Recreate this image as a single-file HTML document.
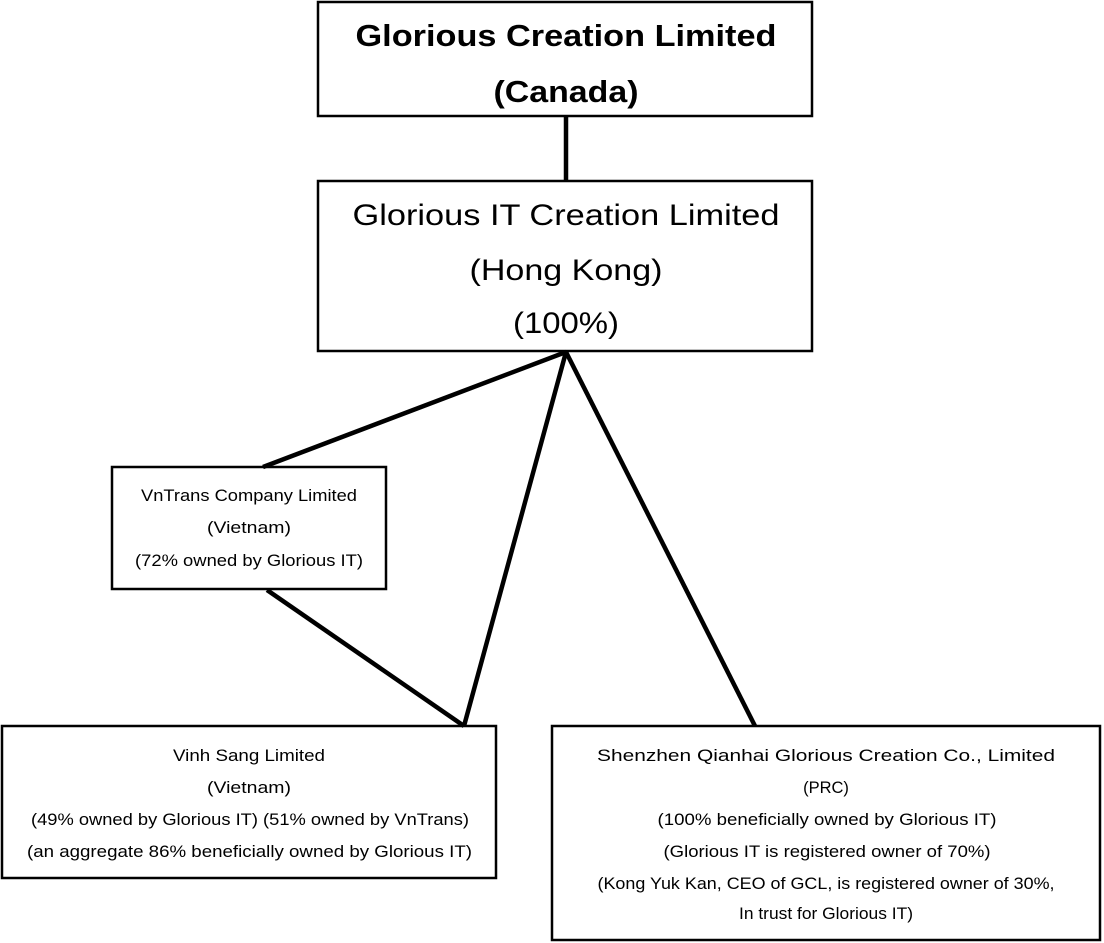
<!DOCTYPE html>
<html><head><meta charset="utf-8"><style>
html,body{margin:0;padding:0;background:#fff;}
svg{display:block;font-family:"Liberation Sans",sans-serif;}
</style></head><body>
<svg width="1104" height="943" viewBox="0 0 1104 943" xmlns="http://www.w3.org/2000/svg">
<g fill="none" stroke="#000">
<rect x="318" y="2" width="494" height="114" stroke-width="2.5"/>
<rect x="318" y="181" width="494" height="170" stroke-width="2.5"/>
<rect x="112" y="467" width="274" height="122" stroke-width="2.5"/>
<rect x="2" y="726" width="494" height="152" stroke-width="2.5"/>
<rect x="552" y="726" width="548" height="214" stroke-width="2.5"/>
<g stroke-width="4.5">
<line x1="566" y1="117" x2="566" y2="181"/>
<line x1="566" y1="352" x2="263" y2="467"/>
<line x1="566" y1="352" x2="464" y2="726"/>
<line x1="566" y1="352" x2="755" y2="726"/>
<line x1="267" y1="590" x2="464" y2="726"/>
</g>
</g>
<g text-anchor="middle" fill="#000">
<text x="566" y="46" font-size="31" font-weight="bold" textLength="421" lengthAdjust="spacingAndGlyphs">Glorious Creation Limited</text>
<text x="566" y="102" font-size="31" font-weight="bold" textLength="145" lengthAdjust="spacingAndGlyphs">(Canada)</text>
<text x="566" y="225" font-size="30" textLength="427" lengthAdjust="spacingAndGlyphs">Glorious IT Creation Limited</text>
<text x="566" y="280" font-size="30" textLength="193" lengthAdjust="spacingAndGlyphs">(Hong Kong)</text>
<text x="566" y="333" font-size="30" textLength="106" lengthAdjust="spacingAndGlyphs">(100%)</text>
<text x="249" y="501" font-size="16.5" textLength="216" lengthAdjust="spacingAndGlyphs">VnTrans Company Limited</text>
<text x="249" y="533" font-size="16.5" textLength="84" lengthAdjust="spacingAndGlyphs">(Vietnam)</text>
<text x="249" y="566" font-size="16.5" textLength="228" lengthAdjust="spacingAndGlyphs">(72% owned by Glorious IT)</text>
<text x="249" y="761" font-size="16.5" textLength="152" lengthAdjust="spacingAndGlyphs">Vinh Sang Limited</text>
<text x="249" y="793" font-size="16.5" textLength="84" lengthAdjust="spacingAndGlyphs">(Vietnam)</text>
<text x="250" y="825" font-size="16.5" textLength="438" lengthAdjust="spacingAndGlyphs">(49% owned by Glorious IT) (51% owned by VnTrans)</text>
<text x="249.5" y="857" font-size="16.5" textLength="445" lengthAdjust="spacingAndGlyphs">(an aggregate 86% beneficially owned by Glorious IT)</text>
<text x="826" y="761" font-size="16.5" textLength="458" lengthAdjust="spacingAndGlyphs">Shenzhen Qianhai Glorious Creation Co., Limited</text>
<text x="826" y="793" font-size="16.5">(PRC)</text>
<text x="827" y="825" font-size="16.5" textLength="339" lengthAdjust="spacingAndGlyphs">(100% beneficially owned by Glorious IT)</text>
<text x="827" y="857" font-size="16.5" textLength="327" lengthAdjust="spacingAndGlyphs">(Glorious IT is registered owner of 70%)</text>
<text x="826" y="889" font-size="16.5" textLength="457" lengthAdjust="spacingAndGlyphs">(Kong Yuk Kan, CEO of GCL, is registered owner of 30%,</text>
<text x="826" y="919" font-size="16.5" textLength="174" lengthAdjust="spacingAndGlyphs">In trust for Glorious IT)</text>
</g>
</svg>
</body></html>
